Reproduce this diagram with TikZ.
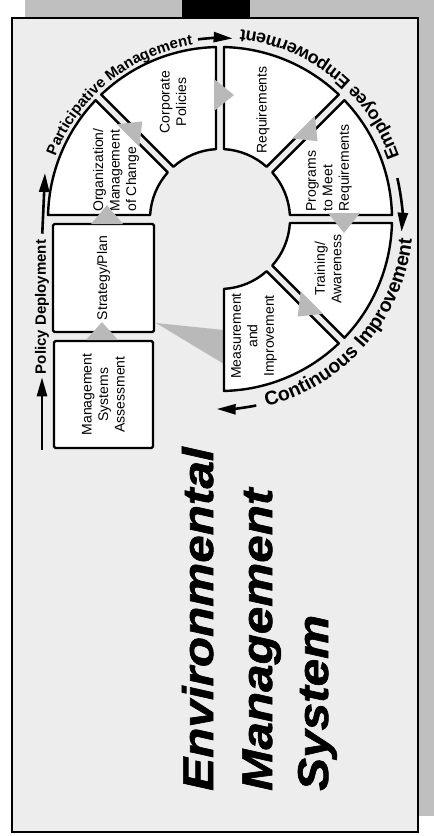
\documentclass[tikz,border=0pt]{standalone}
\usepackage{fontspec}
\setmainfont{Liberation Sans}
\newfontfamily\titlefont[FakeStretch=1.15, BoldItalicFeatures={FakeBold=1.5}]{Liberation Sans}
\usetikzlibrary{arrows.meta,decorations.text,calc}
\newcommand\wheelseg[2]{%
  \pgfmathsetmacro\segAo{#1+asin(4/172)}%
  \pgfmathsetmacro\segAi{#1+asin(4/70)}%
  \pgfmathsetmacro\segBo{#2-asin(4/172)}%
  \pgfmathsetmacro\segBi{#2-asin(4/70)}%
  \draw[seg] (\segAi:70) -- (\segAo:172) arc[start angle=\segAo, end angle=\segBo, radius=172]
     -- (\segBi:70) arc[start angle=\segBi, end angle=\segAi, radius=70] -- cycle;}
\begin{document}
\begin{tikzpicture}[x=1pt,y=1pt,
  seg/.style={draw=black, line width=2.4pt, fill=white, line join=round},
  box/.style={draw=black, line width=2.4pt, fill=white, rounded corners=1.5pt},
  lbl/.style={rotate=90, font=\fontsize{14}{16.5}\selectfont, inner sep=0pt},
  tri/.style={fill=gray!55},
  arr/.style={line width=2.6pt, -{Triangle[length=19pt,width=10pt]}},
  ttl/.style={rotate=90, anchor=base west, inner sep=0pt,
    font=\titlefont\bfseries\itshape\fontsize{43}{50}\selectfont}]
\useasboundingbox (0,0) rectangle (434,-836);
% background and frame
\fill[white] (0,0) rectangle (434,-836);
\fill[gray!50] (25,0) rectangle (434,-17);
\fill[black] (182,0) rectangle (250,-17);
\fill[gray!50] (419,0) rectangle (434,-816);
\draw[line width=2.4pt, fill=gray!14] (12,-18) rectangle (418,-832);
% big wedge from Measurement to Strategy/Plan
\fill[tri] (156,-323) -- (224,-330) -- (224,-364) -- cycle;
% wheel
\begin{scope}[shift={(220,-219)}]
  \foreach \a/\b in {-90/-45,-45/0,0/45,45/90,90/135,135/180} {\wheelseg{\a}{\b}}
  \foreach \t in {135,90,45,0,-45} {\fill[tri, rotate=\t] (108,6) -- (140,6) -- (124,-14) -- cycle;}
  % ring texts
  \path[decorate, decoration={text along path, text align=center,
     text={|\bfseries\fontsize{15}{18}\selectfont|Participative Management}}]
     (170:176) arc[start angle=170, end angle=88, radius=176];
  \path[decorate, decoration={text along path, text align=center,
     text={|\bfseries\fontsize{18}{21}\selectfont|Employee Empowerment}}]
     (1:190) arc[start angle=1, end angle=102, radius=190];
  \path[decorate, decoration={text along path, text align=center,
     text={|\bfseries\fontsize{19.5}{22}\selectfont|Continuous Improvement}}]
     (-95:193) arc[start angle=-95, end angle=13, radius=193];
  % ring arrows
  \coordinate (pmA) at (97:181);
  \coordinate (eeA) at (13:182);
  \coordinate (ciA) at (-79:190);
  \draw[arr] (pmA) arc[start angle=97, end angle=86, radius=181];
  \draw[arr] (eeA) arc[start angle=13, end angle=-4, radius=182];
  \draw[arr] (ciA) arc[start angle=-79, end angle=-91, radius=190];
\end{scope}
% segment labels
\node[lbl, align=left] (org) at (116,-170) {Organization/\\Management\\of Change};
\node[lbl, align=center] (corp) at (173,-102) {Corporate\\Policies};
\node[lbl] (req) at (263,-110) {Requirements};
\node[lbl, align=left] (prog) at (329,-168) {Programs\\to Meet\\Requirements};
\node[lbl, align=center] (train) at (328,-269) {Training/\\Awareness};
\node[lbl, align=center] (meas) at (254,-336) {Measurement\\and\\Improvement};
% boxes
\node[box, lbl, minimum width=108pt, minimum height=101pt] (strat) at (103.5,-278) {Strategy/Plan};
\node[box, lbl, align=center, minimum width=107pt, minimum height=99pt] (msa) at (103.5,-394.5) {Management\\Systems\\Assessment};
\fill[tri] (86,-340) -- (118,-340) -- (102,-322) -- cycle;
\fill[tri] (91,-224) -- (123,-224) -- (107,-205) -- cycle;
% policy deployment
\node[rotate=90, inner sep=0pt, font=\bfseries\fontsize{15}{18}\selectfont] (pd) at (42,-307) {Policy Deployment};
\coordinate (pd0) at (42,-450);
\coordinate (pd1) at (45,-173);
\draw[arr, shorten >=3pt] (pd0) -- (pd.west);
\draw[arr, shorten <=6pt] (pd.east) -- (pd1);
% title
\node[ttl] (t1) at (213,-791) {Environmental};
\node[ttl] (t2) at (272,-791) {Management};
\node[ttl] (t3) at (328,-791) {System};
\end{tikzpicture}
\end{document}
